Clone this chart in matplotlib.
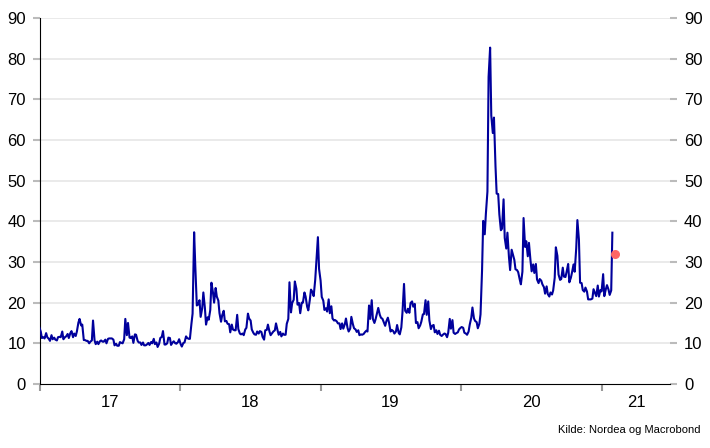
import matplotlib.pyplot as plt
import pandas as pd

# VIX, two readings a week (Tue, Fri), first one on 2016-12-30
vix_start = [14.0]
vix_2017 = [12.9, 11.3, 11.5, 11.2, 12.5, 11.5, 11.1, 10.6,
            12.0, 11.0, 11.4, 10.9, 10.7, 11.5, 11.6, 11.5,
            12.9, 11.0, 11.5, 11.7, 12.3, 11.3, 12.5, 13.0,
            11.5, 12.4, 11.8, 12.9, 15.1, 16.0, 14.4, 14.6,
            10.8, 10.8, 10.6, 10.6, 10.0, 10.4, 10.7, 15.6,
            10.7, 9.8, 10.4, 9.8, 10.5, 10.7, 10.4, 10.4,
            10.9, 10.0, 11.1, 11.2, 11.2, 11.2, 10.9, 9.5,
            9.9, 9.4, 9.4, 10.3, 10.1, 10.0, 11.0, 16.0,
            12.0, 15.0, 11.4, 11.3, 11.7, 10.1, 12.2, 12.1,
            10.6, 10.2, 10.2, 9.6, 10.2, 9.5, 9.5, 9.7,
            10.1, 9.6, 10.3, 10.0, 11.1, 9.8, 10.2, 9.1,
            9.9, 11.3, 11.6, 13.0, 9.7, 9.7, 10.0, 11.4,
            11.3, 9.6, 10.2, 10.5, 10.0, 9.9, 10.3, 11.0]
vix_2018 = [9.8, 9.2, 10.1, 10.2, 11.7, 11.3, 11.1, 11.1,
            14.8, 17.3, 37.3, 29.1, 19.3, 19.5, 20.6, 16.5,
            18.6, 22.5, 18.7, 14.6, 16.4, 15.8, 18.2, 24.9,
            22.5, 20.0, 23.6, 21.5, 20.5, 17.4, 15.3, 16.9,
            18.0, 15.4, 15.5, 14.8, 14.7, 12.7, 14.6, 13.4,
            13.2, 13.2, 17.0, 13.5, 12.4, 12.2, 12.4, 12.0,
            13.4, 13.8, 17.3, 16.1, 15.6, 13.4, 12.6, 12.2,
            12.1, 12.9, 12.4, 13.0, 12.8, 11.6, 10.9, 13.2,
            13.3, 14.6, 12.9, 12.0, 12.5, 12.9, 13.2, 14.9,
            13.2, 12.1, 12.8, 11.7, 12.4, 12.1, 12.1, 14.8,
            16.0, 25.0, 17.6, 19.9, 20.7, 25.2, 23.4, 19.5,
            19.9, 17.4, 20.0, 20.0, 22.5, 21.5, 19.0, 18.1,
            20.7, 23.2, 22.6, 21.6, 25.6, 30.1, 36.1, 28.3]
vix_2019 = [25.4, 21.4, 20.5, 18.2, 18.6, 17.8, 20.8, 17.4,
            19.1, 16.1, 15.6, 15.7, 15.4, 14.9, 14.9, 13.5,
            14.9, 13.6, 14.7, 16.1, 13.8, 12.9, 13.6, 16.5,
            14.7, 13.7, 13.4, 12.8, 13.2, 12.0, 12.2, 12.1,
            12.3, 12.7, 13.1, 12.9, 19.3, 16.0, 20.6, 16.0,
            15.0, 15.9, 17.5, 18.7, 17.0, 16.3, 16.0, 15.3,
            14.3, 15.4, 16.3, 15.1, 12.9, 13.3, 13.0, 12.4,
            12.9, 14.5, 12.6, 12.2, 13.9, 17.6, 24.6, 18.0,
            17.5, 18.5, 17.5, 19.9, 20.3, 19.0, 19.7, 15.0,
            15.2, 13.7, 14.4, 15.3, 17.1, 17.2, 20.6, 17.0,
            20.3, 15.6, 13.5, 14.3, 14.5, 12.7, 13.2, 12.3,
            13.1, 12.1, 11.8, 12.1, 12.4, 12.3, 11.5, 12.6,
            16.0, 13.6, 15.7, 12.6, 12.3, 12.5, 12.7, 13.4]
vix_2020 = [13.8, 14.0, 13.8, 12.6, 12.4, 12.1, 12.9, 14.6,
            16.3, 18.8, 16.1, 15.5, 15.2, 13.7, 14.8, 17.1,
            27.9, 40.1, 36.8, 41.9, 47.3, 75.5, 82.7, 66.0,
            61.7, 65.5, 53.5, 46.8, 46.7, 41.7, 37.8, 38.2,
            45.4, 35.9, 33.3, 37.2, 31.2, 28.0, 33.0, 31.9,
            30.5, 28.2, 28.0, 27.5, 25.7, 24.5, 27.6, 40.8,
            33.7, 35.1, 31.4, 34.7, 30.4, 27.7, 29.4, 27.3,
            29.5, 25.7, 24.8, 25.8, 25.4, 24.5, 23.8, 22.2,
            24.0, 22.1, 21.5, 22.5, 22.0, 23.0, 26.1, 33.6,
            31.5, 26.9, 25.6, 25.8, 28.6, 26.4, 26.3, 27.6,
            29.5, 25.0, 26.1, 27.4, 29.4, 27.6, 33.4, 40.3,
            35.5, 24.9, 24.8, 23.1, 22.7, 23.7, 22.7, 20.8,
            20.8, 20.8, 21.0, 23.3, 22.3, 21.6, 24.2, 21.5]
vix_2021 = [23.1, 22.75, 27.0, 21.6, 23.3, 24.3, 23.2, 21.9, 23.0, 37.2]

latest_date = "2021-02-05"
latest_value = 32.0

year_ticks = ["2017-01-01", "2018-01-01", "2019-01-01", "2020-01-01", "2021-01-01"]
year_labels = ["17", "18", "19", "20", "21"]
label_pos = ["2017-07-02", "2018-07-02", "2019-07-02", "2020-07-02", "2021-04-01"]

values = vix_start + vix_2017 + vix_2018 + vix_2019 + vix_2020 + vix_2021
tue = pd.date_range("2016-12-30", "2021-12-31", freq="W-TUE")
fri = pd.date_range("2016-12-30", "2021-12-31", freq="W-FRI")
dates = tue.union(fri)[:len(values)]

plt.rcParams["font.family"] = ["Liberation Sans", "DejaVu Sans"]

fig = plt.figure(figsize=(7.1, 4.48), dpi=100)
ax = fig.add_axes([0.0563, 0.1429, 0.8874, 0.8171])

for y in range(10, 100, 10):
    ax.axhline(y, color="#e6e6e6", lw=1.2, zorder=0)

ax.plot(dates, values, color="#00009c", lw=1.5, zorder=3)
ax.scatter(pd.to_datetime([latest_date]), [latest_value], s=30, color="#ff6666", zorder=4)

ax.set_xlim(pd.Timestamp("2017-01-01"), pd.Timestamp("2021-06-28"))
ax.set_ylim(0, 90)

ax.set_xticks(pd.to_datetime(year_ticks))
ax.set_xticklabels([])
ax.set_xticks(pd.to_datetime(label_pos), minor=True)
ax.set_xticklabels(year_labels, minor=True)
ax.tick_params(axis="x", which="major", direction="out", length=5, width=1.5, color="#999999")
ax.tick_params(axis="x", which="minor", length=0, labelsize=12, pad=8)

ax.set_yticks(range(0, 100, 10))
ax.tick_params(axis="y", which="both", direction="out", length=5, width=1.5, color="#bbbbbb",
               labelsize=12, left=True, right=True, labelleft=True, labelright=True, pad=5)

for s in ["top", "right"]:
    ax.spines[s].set_visible(False)
ax.spines["left"].set_color("black")
ax.spines["bottom"].set_color("black")

fig.text(0.986, 0.028, "Kilde: Nordea og Macrobond", ha="right", va="bottom", fontsize=8)

plt.savefig("out.png", dpi=100)
